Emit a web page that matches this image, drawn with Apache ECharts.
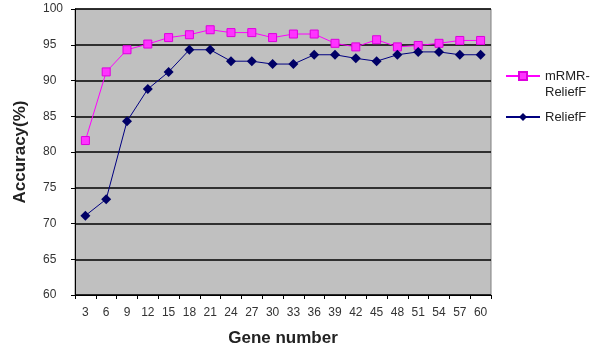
<!DOCTYPE html>
<html>
<head>
<meta charset="utf-8">
<script src="https://cdn.jsdelivr.net/npm/echarts@6/dist/echarts.min.js"></script>
<style>html,body{margin:0;padding:0;background:#fff}#c{width:594px;height:352px}</style>
</head>
<body>
<div id="c"></div>
<script>
var categories = ['3','6','9','12','15','18','21','24','27','30','33','36','39','42','45','48','51','54','57','60'];
var mrmrRelief = [81.6, 91.2, 94.3, 95.1, 96.0, 96.4, 97.1, 96.7, 96.7, 96.0, 96.5, 96.5, 95.2, 94.7, 95.7, 94.7, 94.9, 95.2, 95.6, 95.6];
var relief = [71.1, 73.4, 84.3, 88.8, 91.2, 94.3, 94.3, 92.7, 92.7, 92.3, 92.3, 93.6, 93.6, 93.1, 92.7, 93.6, 94.0, 94.0, 93.6, 93.6];
var yTicks = [60, 100, 5];

var chart = echarts.init(document.getElementById('c'));
var font = 'Liberation Sans, Arial, sans-serif';
chart.setOption({
  animation: false,
  backgroundColor: '#fff',
  grid: {left: 75, right: 103, top: 9, bottom: 57, show: true, backgroundColor: '#c0c0c0', borderColor: '#808080', borderWidth: 1},
  legend: {
    orient: 'vertical', left: 505, top: 52, padding: 0, itemGap: 9, itemWidth: 34, itemHeight: 10,
    textStyle: {fontFamily: font, fontSize: 13, color: '#222', lineHeight: 16},
    formatter: function (n) { return n === 'mRMR-ReliefF' ? ' \nmRMR-\nReliefF' : n; },
    data: ['mRMR-ReliefF', 'ReliefF']
  },
  xAxis: {
    type: 'category', data: categories, boundaryGap: true,
    name: 'Gene number', nameLocation: 'middle', nameGap: 35,
    nameTextStyle: {fontFamily: font, fontSize: 17, fontWeight: 'bold', color: '#222'},
    axisLine: {lineStyle: {color: '#000', width: 1}},
    axisTick: {show: true, inside: false, length: 4, alignWithLabel: false, lineStyle: {color: '#000'}},
    axisLabel: {fontFamily: font, fontSize: 12, color: '#333', margin: 12, interval: 0},
    splitLine: {show: false}
  },
  yAxis: {
    type: 'value', min: yTicks[0], max: yTicks[1], interval: yTicks[2],
    name: 'Accuracy(%)', nameLocation: 'middle', nameGap: 46,
    nameTextStyle: {fontFamily: font, fontSize: 17, fontWeight: 'bold', color: '#222'},
    axisLine: {show: true, lineStyle: {color: '#000', width: 1}},
    axisTick: {show: true, length: 4, lineStyle: {color: '#000'}},
    axisLabel: {fontFamily: font, fontSize: 12, color: '#333', margin: 32, align: 'left'},
    splitLine: {show: true, lineStyle: {color: '#000', width: 1.6}}
  },
  series: [
    {name: 'mRMR-ReliefF', type: 'line', data: mrmrRelief, symbol: 'rect', symbolSize: 8,
     lineStyle: {color: '#ff00ff', width: 1}, itemStyle: {color: '#ff33ff', borderColor: '#dd00dd', borderWidth: 1}, z: 3},
    {name: 'ReliefF', type: 'line', data: relief, symbol: 'diamond', symbolSize: 10,
     lineStyle: {color: '#000080', width: 1}, itemStyle: {color: '#000066', borderColor: '#000066', borderWidth: 0}, z: 4}
  ]
});
</script>
</body>
</html>
